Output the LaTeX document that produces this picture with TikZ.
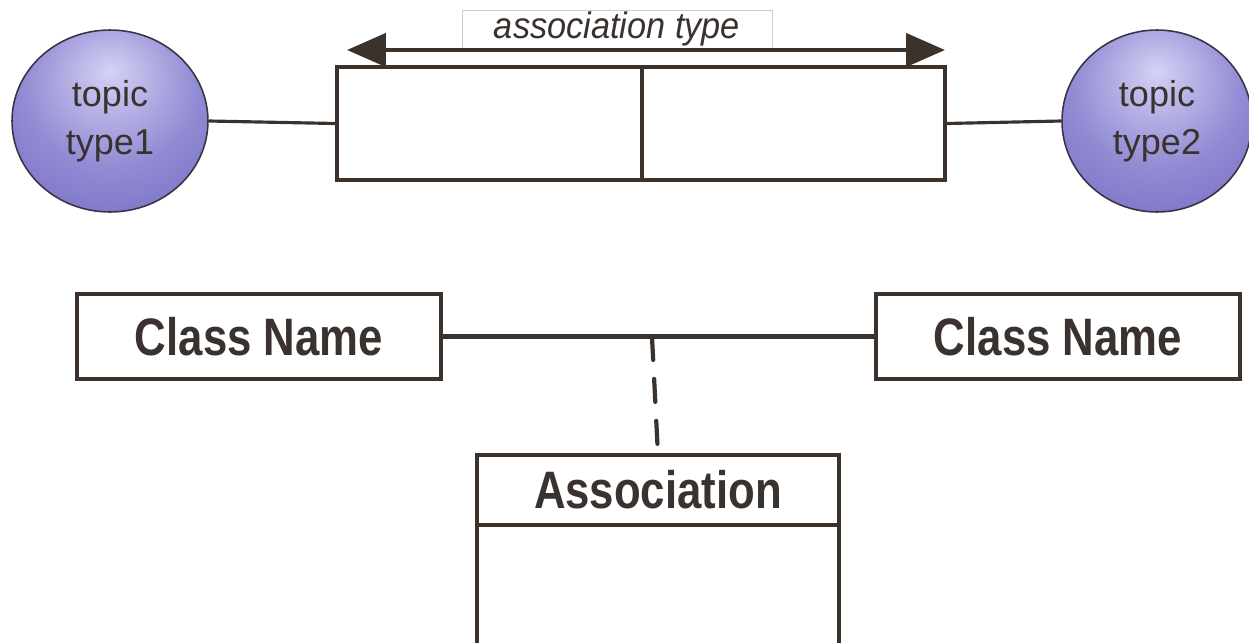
\documentclass[tikz,border=0pt]{standalone}
\usepackage{fontspec}
\setmainfont{Liberation Sans}
\newfontfamily\narrowsans[FakeStretch=0.83]{Liberation Sans}
\newfontfamily\labelsans[FakeStretch=0.93]{Liberation Sans}
\usetikzlibrary{arrows.meta,shapes.geometric}

\definecolor{ink}{RGB}{60,50,44}
\definecolor{textink}{RGB}{58,50,46}
\definecolor{hl}{RGB}{212,210,244}
\definecolor{midv}{RGB}{146,140,212}
\definecolor{edgev}{RGB}{104,96,188}
\definecolor{rimv}{RGB}{60,52,70}

\pgfdeclareradialshading{topicshade}{\pgfpoint{0bp}{14bp}}{%
  color(0bp)=(hl); color(22bp)=(midv); color(48bp)=(edgev); color(70bp)=(edgev)}

\tikzset{
  topic/.style={ellipse, shading=topicshade, draw=rimv, line width=0.9pt,
    text=textink, align=center, font=\fontsize{20.5}{27}\selectfont, inner sep=0pt},
  roledbox/.style={rectangle, draw=ink, line width=2.2pt, fill=white, inner sep=0pt},
  classbox/.style={rectangle, draw=ink, line width=2.2pt, fill=white, inner sep=0pt,
    text=textink, font=\narrowsans\bfseries\fontsize{30}{34}\selectfont},
  typelabel/.style={rectangle, draw=black!20, line width=0.5pt, fill=white, inner sep=0pt,
    text=textink, font=\labelsans\itshape\fontsize{21}{24}\selectfont},
  link/.style={draw=ink, line width=1.8pt},
}

\begin{document}
\begin{tikzpicture}[x=0.02cm,y=-0.02cm]
  \useasboundingbox (0,0) rectangle (1249,643);
  \clip (0,0) rectangle (1249,643);

  % topic map: two topic types joined by a two-role association
  \node[topic, minimum width=3.92cm, minimum height=3.64cm] (t1) at (110,121) {topic\\type1};
  \node[topic, minimum width=3.8cm, minimum height=3.64cm] (t2) at (1157,121) {topic\\type2};
  \node[roledbox, minimum width=12.16cm, minimum height=2.26cm] (assoc) at (641,123.5) {};
  \draw[ink, line width=2.2pt] (642,67) -- (642,180);
  \draw[link] (t1.east) -- (assoc.west);
  \draw[link] (assoc.east) -- (t2.west);

  % association type label with a double-headed arrow
  \node[typelabel, minimum width=6.2cm, minimum height=0.76cm] (atype) at (617,29) {association type};
  \coordinate (al) at (347,50);
  \coordinate (ar) at (945,50);
  \draw[ink, line width=2.6pt, {Triangle[length=0.78cm,width=0.66cm]}-{Triangle[length=0.78cm,width=0.66cm]}] (al) -- (ar);

  % UML: association class
  \node[classbox, minimum width=7.28cm, minimum height=1.7cm] (c1) at (259,336.5) {Class Name};
  \node[classbox, minimum width=7.28cm, minimum height=1.7cm] (c2) at (1058,336.5) {Class Name};
  \draw[ink, line width=2.4pt] (c1) -- (c2);
  \coordinate (mid) at (652,337);

  \node[classbox, outer sep=0pt, minimum width=7.24cm, minimum height=1.4cm] (ahead) at (658,490) {Association};
  \node[classbox, outer sep=0pt, minimum width=7.24cm, minimum height=3.5cm, anchor=north] (abody) at (ahead.south) {};
  \draw[ink, line width=2.4pt, line cap=round, dash pattern=on 0.46cm off 0.38cm] (mid) -- (ahead.north);
\end{tikzpicture}
\end{document}
